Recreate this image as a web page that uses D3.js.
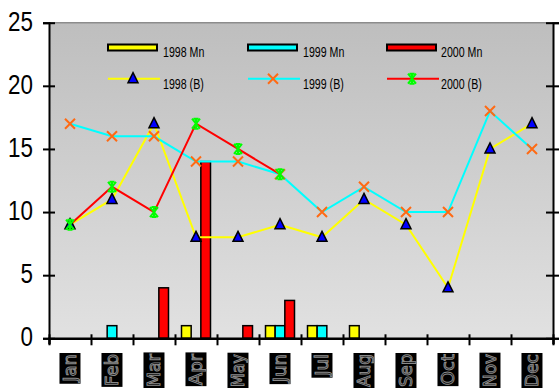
<!DOCTYPE html>
<html>
<head>
<meta charset="utf-8">
<script src="https://cdn.jsdelivr.net/npm/d3@7"></script>
<style>
  html, body { margin: 0; padding: 0; background: #fff; }
  svg { display: block; }
  text { font-family: "Liberation Sans", Arial, sans-serif; }
</style>
</head>
<body>
<svg id="chart" width="559" height="388"></svg>
<script>
// Monthly values per year
const months = ["Jan", "Feb", "Mar", "Apr", "May", "Jun", "Jul", "Aug", "Sep", "Oct", "Nov", "Dec"];
const years = ["1998", "1999", "2000"];

// Bars: "Mn" series
const mn1998 = [0, 0, 0, 1, 0, 1, 1, 1, 0, 0, 0, 0];
const mn1999 = [0, 1, 0, 0, 0, 1, 1, 0, 0, 0, 0, 0];
const mn2000 = [0, 0, 4, 14, 1, 3, 0, 0, 0, 0, 0, 0];

// Lines: "(B)" series
const b1998 = [9, 11, 17, 8, 8, 9, 8, 11, 9, 4, 15, 17];
const b1999 = [17, 16, 16, 14, 14, 13, 10, 12, 10, 10, 18, 15];
const b2000 = [9, 12, 10, 17, 15, 13, null, null, null, null, null, null];

const yTicks = [0, 5, 10, 15, 20, 25];

const svg = d3.select("#chart");
const plotL = 49, plotR = 553, plotT = 22.7, plotB = 338.3;

const x = d3.scaleBand().domain(months).range([plotL, plotR]);
const xInner = d3.scaleBand().domain(years).range([6.5, 35.5]);
const y = d3.scaleLinear().domain([0, 25]).range([plotB, plotT]);

// Plot background gradient
const defs = svg.append("defs");
const grad = defs.append("linearGradient").attr("id", "bg").attr("x1", 0).attr("y1", 0).attr("x2", 0).attr("y2", 1);
grad.append("stop").attr("offset", "0%").attr("stop-color", "#bebebe");
grad.append("stop").attr("offset", "100%").attr("stop-color", "#e1e1e1");

svg.append("rect")
  .attr("x", plotL).attr("y", plotT)
  .attr("width", plotR - plotL).attr("height", plotB - plotT)
  .attr("fill", "url(#bg)");
svg.append("line")
  .attr("x1", plotL).attr("x2", plotR).attr("y1", plotT).attr("y2", plotT)
  .attr("stroke", "#8c8c8c").attr("stroke-width", 1.5);

// Bars
const barSeries = [
  { year: "1998", values: mn1998, color: "#ffff00" },
  { year: "1999", values: mn1999, color: "#00ffff" },
  { year: "2000", values: mn2000, color: "#ff0000" }
];
barSeries.forEach(s => {
  svg.append("g").selectAll("rect")
    .data(months.map((m, i) => ({ m, v: s.values[i] })).filter(d => d.v > 0))
    .join("rect")
    .attr("x", d => x(d.m) + xInner(s.year))
    .attr("width", xInner.bandwidth())
    .attr("y", d => y(d.v))
    .attr("height", d => y(0) - y(d.v))
    .attr("fill", s.color)
    .attr("stroke", "#000")
    .attr("stroke-width", 1.5);
});

// Marker shapes
function triangle(g) {
  g.append("path").attr("d", "M0,-6 L5,4 L-5,4 Z")
    .attr("fill", "#0000ff").attr("stroke", "#000").attr("stroke-width", 1.5)
    .attr("stroke-linejoin", "miter");
}
function cross(g) {
  g.append("path").attr("d", "M-5,-5 L5,5 M-5,5 L5,-5")
    .attr("fill", "none").attr("stroke", "#ff6a13").attr("stroke-width", 2);
}
function star(g) {
  g.append("path").attr("d", "M-4,-5 L4,5 M-4,5 L4,-5 M0,-5.5 L0,5.5 M-2.5,-5 L2.5,-5 M-2.5,5 L2.5,5")
    .attr("fill", "none").attr("stroke", "#00ff00").attr("stroke-width", 2);
}

const lineSeries = [
  { values: b1998, color: "#ffff00", marker: triangle },
  { values: b1999, color: "#00ffff", marker: cross },
  { values: b2000, color: "#ff0000", marker: star }
];

const line = d3.line()
  .defined(d => d.v != null)
  .x(d => x(d.m) + x.bandwidth() / 2)
  .y(d => y(d.v));

lineSeries.forEach(s => {
  const pts = months.map((m, i) => ({ m, v: s.values[i] }));
  svg.append("path").datum(pts)
    .attr("d", line)
    .attr("fill", "none")
    .attr("stroke", s.color)
    .attr("stroke-width", 2);
});
lineSeries.forEach(s => {
  const pts = months.map((m, i) => ({ m, v: s.values[i] })).filter(d => d.v != null);
  pts.forEach(d => {
    const g = svg.append("g").attr("transform", `translate(${x(d.m) + x.bandwidth() / 2},${y(d.v)})`);
    s.marker(g);
  });
});

// Y axes (left with labels, right without)
const yAxisL = svg.append("g").attr("transform", `translate(${plotL},0)`)
  .call(d3.axisLeft(y).tickValues(yTicks).tickSize(6).tickPadding(10));
yAxisL.select(".domain").attr("stroke", "#000").attr("stroke-width", 2);
yAxisL.selectAll(".tick line").attr("x1", 6).attr("x2", -6).attr("stroke-width", 2);
yAxisL.selectAll(".tick text")
  .attr("x", null)
  .attr("dy", "0.27em")
  .attr("transform", "translate(-16,0) scale(0.8,1)")
  .style("font-size", "28px")
  .attr("fill", "#000");

const yAxisR = svg.append("g").attr("transform", `translate(${plotR},0)`)
  .call(d3.axisRight(y).tickValues(yTicks).tickSize(6).tickFormat(""));
yAxisR.select(".domain").attr("stroke", "#000").attr("stroke-width", 2);
yAxisR.selectAll(".tick line").attr("x1", -7).attr("x2", 6).attr("stroke-width", 2);

// X axis with ticks at category boundaries
const xEdges = d3.scaleLinear().domain([0, months.length]).range([plotL, plotR]);
const xAxis = svg.append("g").attr("transform", `translate(0,${plotB})`)
  .call(d3.axisBottom(xEdges).tickValues(d3.range(0, months.length + 1)).tickSize(6).tickFormat(""));
xAxis.select(".domain").attr("stroke", "#000").attr("stroke-width", 2.5);
xAxis.selectAll(".tick line").attr("y1", -4).attr("y2", 7).attr("stroke-width", 2);

// Month labels, rotated, on dark boxes
const labelRoom = 33;
months.forEach(m => {
  const g = svg.append("g")
    .attr("transform", `translate(${x(m) + x.bandwidth() / 2},353) rotate(-90)`);
  const t = g.append("text")
    .attr("x", -1).attr("dy", "0.36em")
    .attr("text-anchor", "end")
    .style("font-size", "18px")
    .style("font-family", "'DejaVu Sans', sans-serif")
    .attr("fill", "#000")
    .attr("stroke", "#8a8a8a")
    .attr("stroke-width", 1)
    .text(m);
  if (t.node().getComputedTextLength() > labelRoom) {
    t.attr("textLength", labelRoom).attr("lengthAdjust", "spacingAndGlyphs");
  }
  const bb = t.node().getBBox();
  g.insert("rect", "text")
    .attr("x", bb.x - 1).attr("y", bb.y)
    .attr("width", bb.width + 2).attr("height", bb.height)
    .attr("fill", "#000");
});

// Legend
const legend = svg.append("g");
const legX = [108, 248, 387];
const legTextX = [163, 303, 441];
function legendText(xp, yp, str) {
  legend.append("text")
    .attr("transform", `translate(${xp},${yp}) scale(0.76,1)`)
    .style("font-size", "14px")
    .attr("fill", "#000")
    .text(str);
}
barSeries.forEach((s, i) => {
  legend.append("rect")
    .attr("x", legX[i]).attr("y", 44.5).attr("width", 49).attr("height", 6)
    .attr("fill", s.color).attr("stroke", "#000").attr("stroke-width", 2);
  legendText(legTextX[i], 57, `${s.year} Mn`);
});
lineSeries.forEach((s, i) => {
  legend.append("line")
    .attr("x1", legX[i]).attr("x2", legX[i] + 52)
    .attr("y1", 78.7).attr("y2", 78.7)
    .attr("stroke", s.color).attr("stroke-width", 2);
  const g = legend.append("g").attr("transform", `translate(${legX[i] + 25},78.7)`);
  s.marker(g);
  legendText(legTextX[i], 89, `${years[i]} (B)`);
});
</script>
</body>
</html>
